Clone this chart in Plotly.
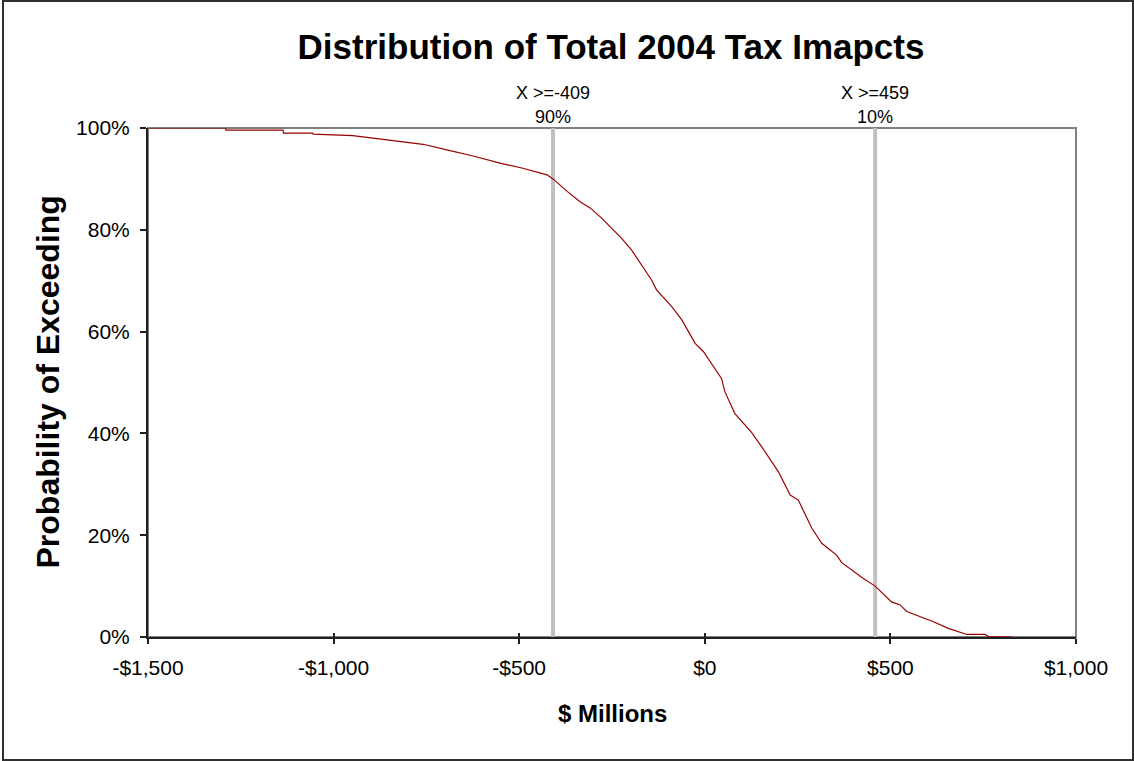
import plotly.graph_objects as go

# Exceedance curve: total 2004 tax impacts ($ millions) vs probability of exceeding
impact_millions = [-1500, -1291, -1290, -1136, -1135, -1056, -1055, -948, -894, -821,
                   -759, -695, -624, -552, -490, -425, -409, -370, -336, -309, -278,
                   -224, -197, -143, -130, -89, -62, -26, -4, 45, 54, 81, 126, 153,
                   198, 230, 252, 288, 315, 355, 369, 427, 459, 503, 526, 544, 616,
                   656, 706, 755, 764, 827]
prob_exceeding = [1.000, 1.000, 0.996, 0.996, 0.990, 0.990, 0.988, 0.985, 0.980, 0.973,
                  0.968, 0.957, 0.945, 0.931, 0.921, 0.908, 0.900, 0.875, 0.855, 0.843, 0.823,
                  0.783, 0.760, 0.701, 0.682, 0.649, 0.623, 0.577, 0.561, 0.508, 0.482, 0.439,
                  0.402, 0.374, 0.325, 0.279, 0.269, 0.214, 0.184, 0.161, 0.146, 0.115, 0.100,
                  0.069, 0.063, 0.050, 0.030, 0.017, 0.005, 0.005, 0.001, 0.000]

# Percentile markers
marker_x = [-409, 459]
marker_label = ["X >=-409", "X >=459"]
marker_pct = ["90%", "10%"]

x_ticks = [-1500, -1000, -500, 0, 500, 1000]
x_tick_text = ["-$1,500", "-$1,000", "-$500", "$0", "$500", "$1,000"]
y_ticks = [0, 0.2, 0.4, 0.6, 0.8, 1.0]

FONT = "Liberation Sans, Arial, sans-serif"
W, H = 1134, 761
L, R, T, B = 148, 58, 128, 124
PW, PH = W - L - R, H - T - B


def px_x(px):
    return (px - L) / PW


def px_y(py):
    return (H - B - py) / PH


fig = go.Figure()

for mx in marker_x:
    fig.add_trace(go.Scatter(
        x=[mx, mx], y=[0, 1], mode="lines",
        line=dict(color="#C0C0C0", width=4), hoverinfo="skip", showlegend=False))

fig.add_trace(go.Scatter(
    x=impact_millions, y=prob_exceeding, mode="lines",
    line=dict(color="#990000", width=1.2), showlegend=False))

# Invisible trace carrying the overlay x axis (inner half of crossing ticks)
fig.add_trace(go.Scatter(x=[-1500, 1000], y=[0, 0], xaxis="x2", mode="lines",
                         line=dict(width=0), hoverinfo="skip", showlegend=False))

for mx, lab, pct in zip(marker_x, marker_label, marker_pct):
    fig.add_annotation(x=mx, y=1, xref="x", yref="paper", yanchor="middle", yshift=35,
                       text=lab, showarrow=False, font=dict(family=FONT, size=18, color="black"))
    fig.add_annotation(x=mx, y=1, xref="x", yref="paper", yanchor="middle", yshift=11,
                       text=pct, showarrow=False, font=dict(family=FONT, size=18, color="black"))

# Axis titles
fig.add_annotation(x=0.5, y=px_y(713), xref="paper", yref="paper", yanchor="middle",
                   text="<b>$ Millions</b>", showarrow=False,
                   font=dict(family=FONT, size=24, color="black"))
fig.add_annotation(x=px_x(47), y=0.5, xref="paper", yref="paper", xanchor="center",
                   yanchor="middle", textangle=-90,
                   text="<b>Probability of Exceeding</b>", showarrow=False,
                   font=dict(family=FONT, size=32, color="black"))

# Plot-area frame (gray) and outer chart frame (dark)
fig.add_shape(type="rect", xref="paper", yref="paper", x0=0, x1=1, y0=0, y1=1,
              line=dict(color="#808080", width=2), layer="below")
fig.add_shape(type="rect", xref="paper", yref="paper",
              x0=px_x(3), x1=px_x(1133), y0=px_y(760), y1=px_y(1),
              line=dict(color="#303030", width=2))

fig.update_layout(
    width=W, height=H,
    margin=dict(l=L, r=R, t=T, b=B),
    paper_bgcolor="white", plot_bgcolor="white",
    title=dict(text="<b>Distribution of Total 2004 Tax Imapcts</b>",
               x=px_x(611), xref="paper", xanchor="center",
               y=1 - 47 / H, yanchor="middle",
               font=dict(family=FONT, size=35, color="black")),
    font=dict(family=FONT, color="black"),
    xaxis=dict(range=[-1500, 1000], tickvals=x_ticks, ticktext=x_tick_text,
               showgrid=False, zeroline=False, showline=True, linecolor="#202020",
               linewidth=2, ticks="outside", ticklen=5, tickcolor="#202020", tickwidth=1.5,
               ticklabelstandoff=6,
               tickfont=dict(family=FONT, size=21)),
    xaxis2=dict(range=[-1500, 1000], tickvals=x_ticks, overlaying="x", anchor="y",
                side="bottom", showgrid=False, zeroline=False, showline=False,
                ticks="inside", ticklen=4, tickcolor="#202020", tickwidth=1.5,
                showticklabels=False),
    yaxis=dict(range=[0, 1], tickvals=y_ticks, tickformat=".0%",
               showgrid=False, zeroline=False, showline=True, linecolor="#202020",
               linewidth=2, ticks="outside", ticklen=6, tickcolor="#202020", tickwidth=1.5,
               ticklabelstandoff=6,
               tickfont=dict(family=FONT, size=21)),
)

fig.write_html("out.html")
